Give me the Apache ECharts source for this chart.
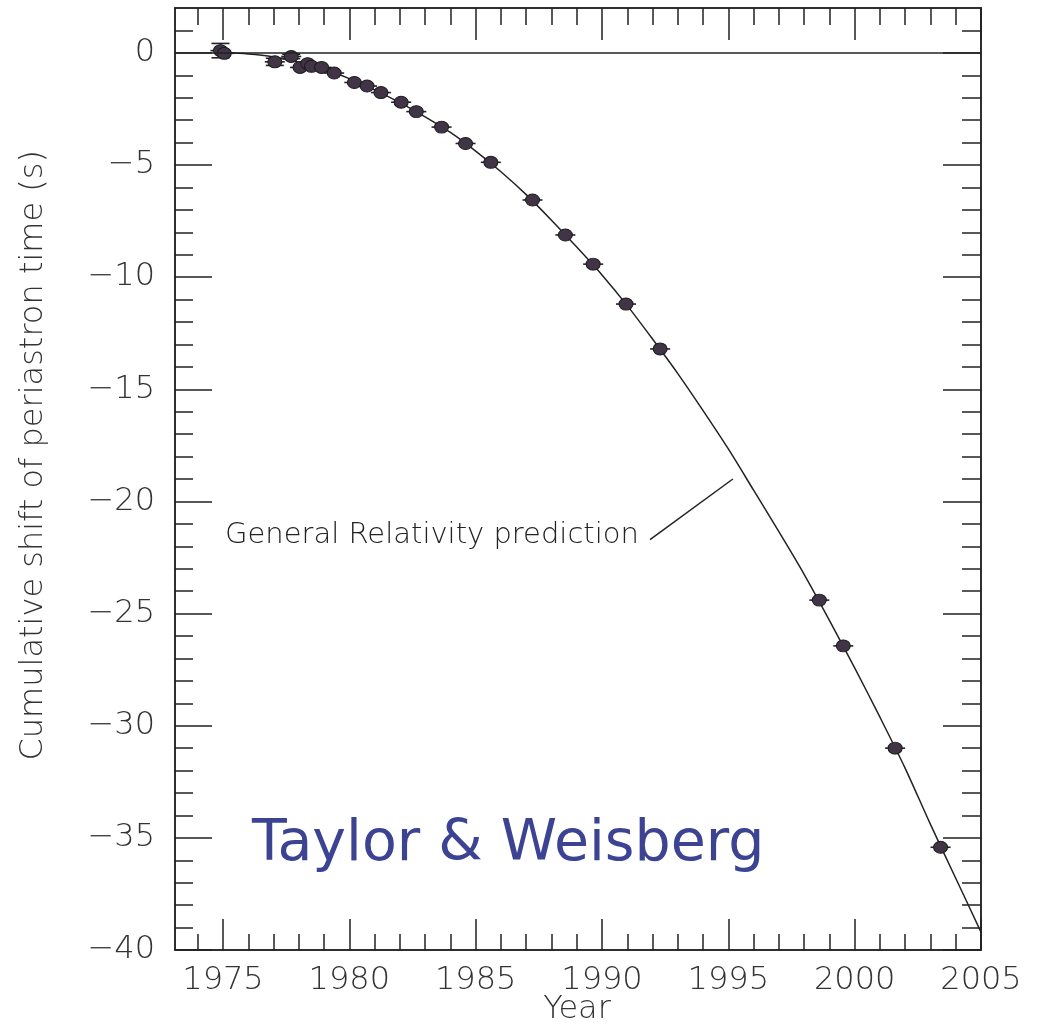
<!DOCTYPE html>
<html>
<head>
<meta charset="utf-8">
<title>Cumulative shift of periastron time</title>
<script src="https://cdn.jsdelivr.net/npm/echarts@6/dist/echarts.min.js"></script>
<style>
html,body{margin:0;padding:0;background:#fff;}
#main{width:1040px;height:1025px;}
</style>
</head>
<body>
<div id="main"></div>
<script>
// measured points (year, shift in s, vertical error)
var obsYears = [1974.9, 1975.05, 1977.05, 1977.7, 1978.05, 1978.35, 1978.5, 1978.9, 1979.4, 1980.2, 1980.7, 1981.25, 1982.05, 1982.65, 1983.65, 1984.6, 1985.6, 1987.25, 1988.55, 1989.65, 1990.95, 1992.3, 1998.6, 1999.55, 2001.6, 2003.4];
var obsShift = [0.1, -0.02, -0.4, -0.16, -0.65, -0.48, -0.6, -0.65, -0.9, -1.32, -1.48, -1.77, -2.2, -2.62, -3.31, -4.04, -4.88, -6.56, -8.12, -9.42, -11.2, -13.2, -24.4, -26.44, -31.0, -35.42];
var obsErr = [0.32, 0, 0.16, 0.1, 0, 0, 0, 0, 0, 0, 0, 0, 0, 0, 0, 0, 0, 0, 0, 0, 0, 0, 0, 0, 0, 0];

// GR prediction curve
var grYears = [1975, 1976, 1977, 1978, 1979, 1980, 1981, 1982, 1983, 1984, 1985, 1986, 1987, 1988, 1989, 1990, 1991, 1992, 1993, 1994, 1995, 1996, 1997, 1998, 1999, 2000, 2001, 2002, 2003, 2004, 2005];
var grShift = [0, -0.05, -0.18, -0.42, -0.72, -1.15, -1.65, -2.22, -2.85, -3.55, -4.38, -5.3, -6.32, -7.46, -8.66, -9.9, -11.27, -12.76, -14.3, -15.95, -17.66, -19.5, -21.35, -23.25, -25.3, -27.42, -29.62, -31.9, -34.4, -36.8, -39.2];

// axis ticks and labels
var xLabelYears = [1975, 1980, 1985, 1990, 1995, 2000, 2005];
var xMinorYears = [1974, 1976, 1977, 1978, 1979, 1981, 1982, 1983, 1984, 1986, 1987, 1988, 1989, 1991, 1992, 1993, 1994, 1996, 1997, 1998, 1999, 2001, 2002, 2003, 2004];
var yLabelValues = [0, -5, -10, -15, -20, -25, -30, -35, -40];
var yMinorValues = [1, -1, -2, -3, -4, -6, -7, -8, -9, -11, -12, -13, -14, -16, -17, -18, -19, -21, -22, -23, -24, -26, -27, -28, -29, -31, -32, -33, -34, -36, -37, -38, -39];

// leader line of the annotation
var leaderFrom = [1991.9, -21.7];
var leaderTo = [1995.18, -19.0];

var FONT = "'DejaVu Sans', sans-serif";
var TXT = '#333';
var AXIS_COLOR = '#222';
var X_MIN = 1973.1, X_MAX = 2005, Y_MIN = -40, Y_MAX = 2;

function fmtY(v){
	return v < 0 ? '\u2212' + Math.abs(v) : String(v);
}

function xAx(grid, pos, ticks, len, withLabel){
	return {
		type:'value', gridIndex:grid, position:pos, min:X_MIN, max:X_MAX,
		axisLine:{show:true, onZero:false, lineStyle:{color:AXIS_COLOR, width:1.5}},
		axisTick:{show:true, inside:true, length:len, customValues:ticks, lineStyle:{color:AXIS_COLOR, width:1.5}},
		axisLabel:withLabel ? {show:true, customValues:xLabelYears, margin:15, fontSize:32, fontWeight:200, color:TXT, fontFamily:FONT,
			formatter:function(v){ return String(v); }} : {show:false},
		splitLine:{show:false}
	};
}
function yAx(grid, pos, ticks, len, withLabel){
	return {
		type:'value', gridIndex:grid, position:pos, min:Y_MIN, max:Y_MAX,
		axisLine:{show:true, onZero:false, lineStyle:{color:AXIS_COLOR, width:1.5}},
		axisTick:{show:true, inside:true, length:len, customValues:ticks, lineStyle:{color:AXIS_COLOR, width:1.5}},
		axisLabel:withLabel ? {show:true, customValues:yLabelValues, margin:20, fontSize:32, fontWeight:200, color:TXT, fontFamily:FONT, formatter:fmtY} : {show:false},
		splitLine:{show:false}
	};
}

var obsData = [];
for(var i=0;i<obsYears.length;i++){
	obsData.push([obsYears[i], obsShift[i], obsErr[i]]);
}
var grData = [];
for(var j=0;j<grYears.length;j++){
	grData.push([grYears[j], grShift[j]]);
}

// dash through each dot, plus error bar with caps where there is one
function renderBars(params, api){
	var x = api.value(0), v = api.value(1), e = api.value(2);
	var p = api.coord([x, v]);
	var st = {stroke:'#222', lineWidth:1.6};
	var kids = [{type:'line', shape:{x1:p[0]-10, y1:p[1], x2:p[0]+10, y2:p[1]}, style:st}];
	if(e > 0){
		var t = api.coord([x, v+e]), b = api.coord([x, v-e]);
		kids.push({type:'line', shape:{x1:p[0], y1:t[1], x2:p[0], y2:b[1]}, style:st});
		kids.push({type:'line', shape:{x1:p[0]-9, y1:t[1], x2:p[0]+9, y2:t[1]}, style:st});
		kids.push({type:'line', shape:{x1:p[0]-9, y1:b[1], x2:p[0]+9, y2:b[1]}, style:st});
	}
	return {type:'group', children:kids};
}

var chart = echarts.init(document.getElementById('main'), null, {renderer:'canvas'});
var option = {
	animation:false,
	backgroundColor:'#fff',
	grid:[
		{left:175, top:8, width:806, height:942},
		{left:175, top:8, width:806, height:942}
	],
	xAxis:[
		xAx(0, 'bottom', xLabelYears, 31, true),
		xAx(0, 'top', xLabelYears, 32, false),
		xAx(1, 'bottom', xMinorYears, 16, false),
		xAx(1, 'top', xMinorYears, 17, false)
	],
	yAxis:[
		yAx(0, 'left', yLabelValues, 37, true),
		yAx(0, 'right', yLabelValues, 38, false),
		yAx(1, 'left', yMinorValues, 18, false),
		yAx(1, 'right', yMinorValues, 19, false)
	],
	series:[
		{
			type:'line', xAxisIndex:0, yAxisIndex:0, data:grData, smooth:0.3,
			showSymbol:false, symbol:'none', silent:true,
			lineStyle:{color:'#222', width:1.5},
			markLine:{
				silent:true, symbol:['none','none'], animation:false,
				label:{show:false},
				lineStyle:{color:'#222', width:1.5, type:'solid'},
				data:[
					{yAxis:0},
					[{coord:leaderFrom}, {coord:leaderTo}]
				]
			},
			z:2
		},
		{
			type:'custom', xAxisIndex:0, yAxisIndex:0, data:obsData,
			renderItem:renderBars, silent:true, z:3
		},
		{
			type:'scatter', xAxisIndex:0, yAxisIndex:0, data:obsData,
			symbol:'circle', symbolSize:[14,12], silent:true,
			itemStyle:{color:'#403446', borderColor:'#1c1c1c', borderWidth:1, opacity:1},
			z:4
		}
	],
	graphic:[
		{
			type:'text', left:18, top:150, rotation:Math.PI/2,
			style:{text:'Cumulative shift of periastron time (s)', fontSize:32, fontWeight:200, fontFamily:FONT, fill:TXT}
		},
		{
			type:'text', x:577, y:1010,
			style:{text:'Year', fontSize:32, fontWeight:200, fontFamily:FONT, fill:TXT, textAlign:'center', textVerticalAlign:'middle'}
		},
		{
			type:'text', x:225, y:535,
			style:{text:'General Relativity prediction', fontSize:29, fontWeight:200, fontFamily:FONT, fill:'#222', textAlign:'left', textVerticalAlign:'middle'}
		},
		{
			type:'text', x:252, y:845,
			style:{text:'Taylor & Weisberg', fontSize:57, fontFamily:FONT, fill:'#3c4392', textAlign:'left', textVerticalAlign:'middle'}
		}
	]
};
chart.setOption(option);
</script>
</body>
</html>
